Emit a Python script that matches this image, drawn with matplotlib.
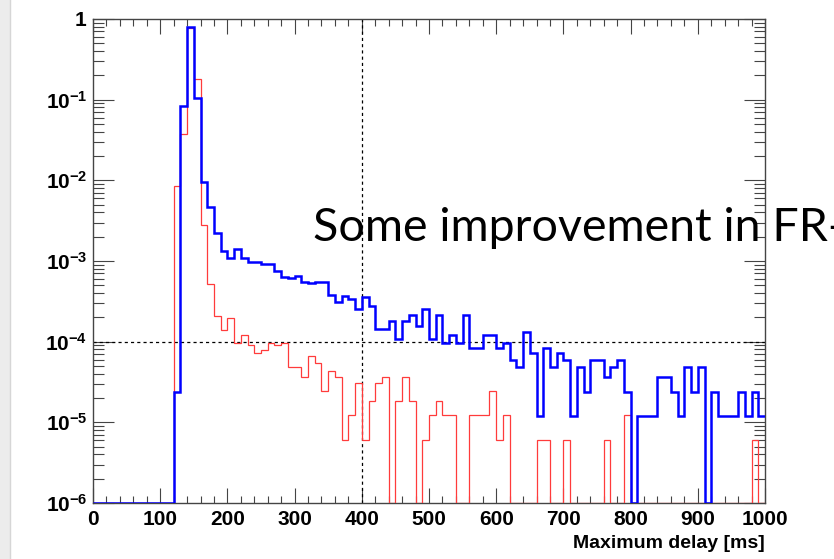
import numpy as np
import matplotlib
matplotlib.use("Agg")
import matplotlib.pyplot as plt
from matplotlib.ticker import MultipleLocator, FixedLocator, FuncFormatter, NullFormatter
from matplotlib.patches import Rectangle

plt.rcParams["font.family"] = ["Liberation Sans", "DejaVu Sans"]
plt.rcParams["mathtext.fontset"] = "custom"
plt.rcParams["mathtext.rm"] = "Liberation Sans"
plt.rcParams["mathtext.bf"] = "Liberation Sans:bold"

# 10 ms bins from 0 to 1000 ms
bin_edges = np.arange(0, 1001, 10)

# entries per bin (blue sample), normalised by blue_norm
blue_counts = [
    0, 0, 0, 0, 0, 0, 0, 0, 0, 0, 0, 0,
    2, 6917, 65833, 8667, 792, 392, 185, 110,
    90, 117, 90, 81, 81, 76, 76, 63, 53, 52,
    55, 46, 44, 46, 46, 32, 26, 31, 28, 21,
    30, 23, 12, 12, 15, 9, 15, 18, 13, 21,
    9, 18, 8, 10, 8, 18, 7, 7, 10, 10,
    7, 8, 5, 4, 11, 6, 1, 7, 4, 6,
    5, 1, 4, 2, 5, 5, 3, 4, 5, 2,
    0, 1, 1, 1, 3, 3, 2, 1, 4, 2,
    4, 0, 2, 1, 1, 1, 2, 1, 2, 1,
]
blue_norm = 83300

# entries per bin (red sample), normalised by red_norm
red_counts = [
    0, 0, 0, 0, 0, 0, 0, 0, 0, 0, 0, 0,
    1394, 6068, 126280, 29520, 459, 84, 34, 23,
    32, 16, 20, 15, 12, 13, 16, 15, 16, 8,
    8, 6, 11, 9, 4, 7, 6, 1, 2, 5,
    1, 3, 5, 6, 0, 3, 6, 3, 0, 1,
    2, 3, 2, 2, 0, 0, 2, 2, 2, 4,
    1, 2, 0, 0, 0, 0, 1, 1, 0, 0,
    1, 0, 0, 0, 0, 0, 1, 0, 0, 2,
    0, 0, 0, 0, 0, 0, 0, 0, 0, 0,
    0, 0, 0, 0, 0, 0, 0, 0, 1, 0,
]
red_norm = 164000

x_range = (0, 1000)
y_range = (1e-6, 1)
y_decades = [-6, -5, -4, -3, -2, -1, 0]
cut_delay = 400
cut_level = 1e-4

W, H, DPI = 834, 559, 100
fig = plt.figure(figsize=(W / DPI, H / DPI), dpi=DPI)
fig.patch.set_facecolor("white")

# light slide border at the left edge
fig.add_artist(Rectangle((0, 0), 10 / W, 1, transform=fig.transFigure,
                         facecolor="#ececec", edgecolor="none", zorder=0))
fig.add_artist(plt.Line2D([10 / W, 10 / W], [0, 1], transform=fig.transFigure,
                          color="#d6d6d6", lw=1, zorder=0))

ax = fig.add_axes([93 / W, 1 - 503 / H, (765 - 93) / W, (503 - 19) / H])
ax.set_yscale("log")
ax.set_xlim(*x_range)
ax.set_ylim(*y_range)


def draw_hist(counts, norm, color, lw):
    vals = np.asarray(counts, dtype=float) / norm
    # empty bins sit on the lower edge of the frame
    vals = np.where(vals > 0, vals, y_range[0])
    ax.stairs(vals, bin_edges, baseline=None, color=color, lw=lw, zorder=3)


draw_hist(red_counts, red_norm, "#ff3b3b", 0.9)
draw_hist(blue_counts, blue_norm, "#0000ff", 1.8)

ax.axvline(cut_delay, color="black", lw=0.9, ls=(0, (2.5, 2.5)), zorder=2)
ax.axhline(cut_level, color="black", lw=0.9, ls=(0, (2.5, 2.5)), zorder=2)

for s in ax.spines.values():
    s.set_color("#444444")
    s.set_linewidth(1.0)

ax.xaxis.set_major_locator(MultipleLocator(100))
ax.xaxis.set_minor_locator(MultipleLocator(20))
major_y = [10.0 ** e for e in y_decades]
minor_y = [m * 10.0 ** e for e in y_decades[:-1] for m in range(2, 10)]
ax.yaxis.set_major_locator(FixedLocator(major_y))
ax.yaxis.set_minor_locator(FixedLocator(minor_y))
ax.yaxis.set_minor_formatter(NullFormatter())


def ylab(v, pos):
    e = int(round(np.log10(v)))
    if e == 0:
        return r"$\mathbf{1}$"
    return r"$\mathbf{10^{%d}}$" % e


ax.yaxis.set_major_formatter(FuncFormatter(ylab))
ax.xaxis.set_major_formatter(FuncFormatter(lambda v, p: "%d" % v))

ax.tick_params(which="both", direction="in", top=True, right=True,
               color="#444444", width=0.8)
ax.tick_params(axis="x", which="major", length=11, pad=5, labelsize=15)
ax.tick_params(axis="x", which="minor", length=5)
ax.tick_params(axis="y", which="major", length=15, pad=4, labelsize=15)
ax.tick_params(axis="y", which="minor", length=8)
for lab in ax.get_xticklabels():
    lab.set_fontweight("bold")

ax.set_xlabel("Maximum delay [ms]", fontsize=14, fontweight="bold",
              loc="right", labelpad=4)

fig.text(313 / W, 1 - 241 / H, "Some improvement in FR-", fontsize=33.5,
         family=["Lato", "DejaVu Sans"], color="black", va="baseline", ha="left")

fig.savefig("out.png", dpi=DPI)
